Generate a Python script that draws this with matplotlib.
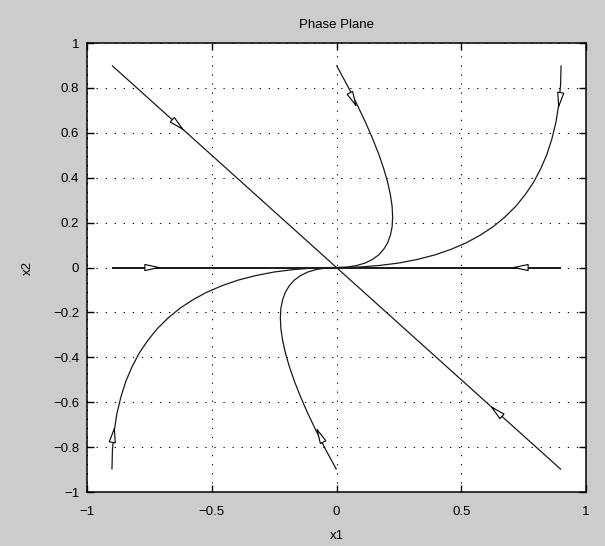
import numpy as np
import matplotlib
matplotlib.use("Agg")
import matplotlib.pyplot as plt

plt.rcParams['font.family'] = ['Liberation Sans', 'DejaVu Sans']

# trajectories of the linear system, each ending at the origin
top_x1 = [0.0, 0.043, 0.081, 0.115, 0.144, 0.169, 0.189, 0.205, 0.216, 0.223, 0.225,
          0.223, 0.216, 0.205, 0.189, 0.169, 0.144, 0.115, 0.081, 0.043, 0.018, 0.0]
top_x2 = [0.9, 0.812, 0.729, 0.650, 0.576, 0.506, 0.441, 0.380, 0.324, 0.272, 0.225,
          0.182, 0.144, 0.110, 0.081, 0.056, 0.036, 0.020, 0.009, 0.002, 0.0004, 0.0]
bot_x1 = [-v for v in top_x1]
bot_x2 = [-v for v in top_x2]

right_x1 = [0.9, 0.898, 0.891, 0.880, 0.864, 0.844, 0.819, 0.790, 0.756, 0.718, 0.675,
            0.628, 0.576, 0.520, 0.459, 0.394, 0.324, 0.250, 0.171, 0.088, 0.036, 0.0]
right_x2 = [0.9, 0.812, 0.729, 0.650, 0.576, 0.506, 0.441, 0.380, 0.324, 0.272, 0.225,
            0.182, 0.144, 0.110, 0.081, 0.056, 0.036, 0.020, 0.009, 0.002, 0.0004, 0.0]
left_x1 = [-v for v in right_x1]
left_x2 = [-v for v in right_x2]

diag_ul_x1, diag_ul_x2 = [-0.9, 0.0], [0.9, 0.0]
diag_lr_x1, diag_lr_x2 = [0.9, 0.0], [-0.9, 0.0]
axis_l_x1, axis_l_x2 = [-0.9, 0.0], [0.0, 0.0]
axis_r_x1, axis_r_x2 = [0.9, 0.0], [0.0, 0.0]

trajectories = [
    (top_x1, top_x2), (bot_x1, bot_x2),
    (right_x1, right_x2), (left_x1, left_x2),
    (diag_ul_x1, diag_ul_x2), (diag_lr_x1, diag_lr_x2),
    (axis_l_x1, axis_l_x2), (axis_r_x1, axis_r_x2),
]
# where the direction arrow sits on each trajectory
arrow_at = [(0.07, 0.74), (-0.07, -0.74),
            (0.893, 0.737), (-0.893, -0.737),
            (-0.63, 0.63), (0.635, -0.635),
            (-0.73, 0.0), (0.73, 0.0)]

xticks = [-1, -0.5, 0, 0.5, 1]
xticklabels = ['\u22121', '\u22120.5', '0', '0.5', '1']
yticks = [-1, -0.8, -0.6, -0.4, -0.2, 0, 0.2, 0.4, 0.6, 0.8, 1]
yticklabels = ['\u22121', '\u22120.8', '\u22120.6', '\u22120.4', '\u22120.2', '0',
               '0.2', '0.4', '0.6', '0.8', '1']

fig = plt.figure(figsize=(6.05, 5.46), dpi=100, facecolor='#cccccc')
ax = fig.add_axes([0.1438, 0.0989, 0.9686 - 0.1438, 0.9212 - 0.0989])
ax.set_facecolor('white')

for i, (xs, ys) in enumerate(trajectories):
    lw = 1.4 if i >= 6 else 0.9
    ax.plot(xs, ys, color='#1a1a1a', lw=lw, solid_capstyle='butt')

ax.set_xlim(-1, 1)
ax.set_ylim(-1, 1)
ax.set_xticks(xticks)
ax.set_xticklabels(xticklabels)
ax.set_yticks(yticks)
ax.set_yticklabels(yticklabels)
ax.grid(True, color='black', linestyle=(0, (1.2, 7.5)), lw=0.75)
ax.tick_params(axis='both', direction='in', length=5, width=1, top=True, right=True,
               labelsize=9.5, colors='black')
ax.tick_params(axis='x', pad=10)
ax.tick_params(axis='y', pad=5.5)
for s in ax.spines.values():
    s.set_linewidth(1.1)

ax.set_title('Phase Plane', fontsize=9.5, pad=11)
ax.set_xlabel('x1', fontsize=9.5, labelpad=9)
ax.set_ylabel('x2', fontsize=9.5, labelpad=14)

# small open arrowheads showing the direction of motion
fig.canvas.draw()
to_px = ax.transData
to_data = ax.transData.inverted()
half = 7.0
for (xs, ys), (ax1, ax2) in zip(trajectories, arrow_at):
    pts = to_px.transform(np.column_stack([xs, ys]))
    p = to_px.transform((ax1, ax2))
    k = int(np.argmin(np.hypot(*(pts - p).T)))
    k = min(k, len(pts) - 2)
    d = pts[k + 1] - pts[k]
    d = d / np.hypot(*d)
    tail = to_data.transform(p - d * half)
    tip = to_data.transform(p + d * half)
    ax.annotate('', xy=tip, xytext=tail,
                arrowprops=dict(arrowstyle='-|>,head_length=1.0,head_width=0.22',
                                mutation_scale=10, fc='white', ec='black', lw=0.8,
                                shrinkA=0, shrinkB=0))

fig.savefig('out.png', dpi=100, facecolor=fig.get_facecolor())
